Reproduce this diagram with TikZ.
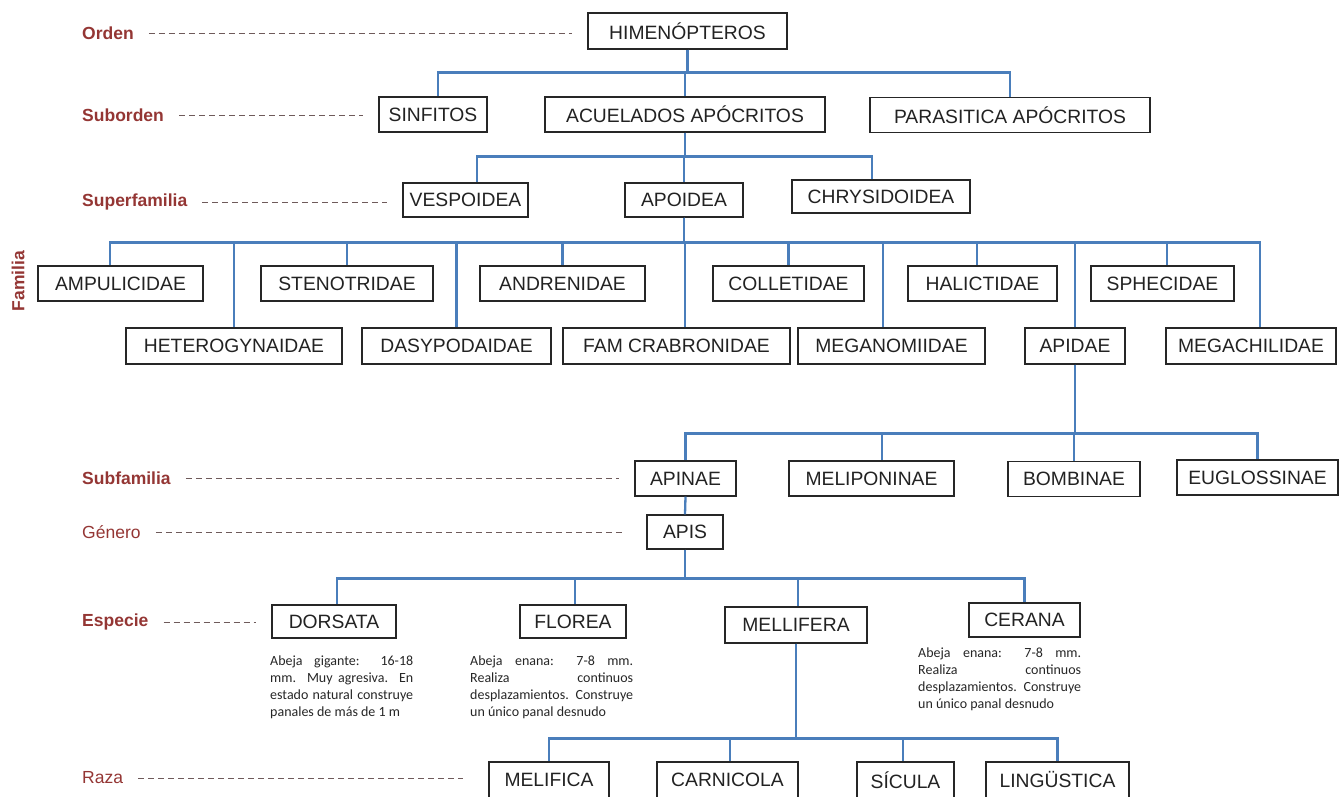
\documentclass[tikz,border=0pt]{standalone}
\usepackage{fontspec}
\setmainfont{Liberation Sans}
\newfontfamily\calibrifam{Carlito}
\usepackage{tikz}

\definecolor{linkblue}{HTML}{4A7EBB}
\definecolor{rankred}{HTML}{943634}
\definecolor{dashgray}{HTML}{6E5A5A}
\definecolor{boxtext}{HTML}{222222}
\definecolor{notegray}{HTML}{262626}

\newcommand{\taxfont}{\fontsize{19.3}{23}\selectfont}
\newcommand{\rankfont}{\fontsize{17.5}{21}\selectfont}
\newcommand{\notefont}{\calibrifam\fontsize{14}{17}\selectfont}

\begin{document}
\begin{tikzpicture}[x=1pt, y=-1pt]
    \tikzset{
        taxbox/.style={draw=black!85, line width=1.2pt, fill=white, minimum height=35pt, inner sep=0pt, text=boxtext, font=\taxfont},
        rank/.style={anchor=west, inner sep=0pt, text=rankred, font=\rankfont\bfseries},
        plainrank/.style={rank, font=\rankfont},
        link/.style={draw=linkblue, line width=2.3pt},
        guide/.style={draw=dashgray, line width=0.9pt, dash pattern=on 6pt off 4pt, shorten <=15pt, shorten >=15pt},
        note/.style={anchor=north west, inner sep=0pt, align=justify, font=\notefont, text=notegray}
    }
    \clip (0,0) rectangle (1341,796);

    % ranks
    \node [rank] (orden) at (82,33) {Orden};
    \node [rank] (subord) at (82,115) {Suborden};
    \node [rank] (superf) at (82,202) {Superfamilia};
    \node [rank, rotate=90, anchor=center] (familia) at (18,281) {Familia};
    \node [rank] (subfam) at (82,478) {Subfamilia};
    \node [plainrank] (genero) at (82,532) {Género};
    \node [rank] (especie) at (82,622) {Especie};
    \node [plainrank] (raza) at (82,778) {Raza};

    % taxa
    \node [taxbox, minimum width=199pt, minimum height=36pt] (himen) at (687.5,31) {HIMENÓPTEROS};
    \node [taxbox, minimum width=108pt] (sinf) at (433,114.5) {SINFITOS};
    \node [taxbox, minimum width=280pt] (acuel) at (685,114.5) {ACUELADOS APÓCRITOS};
    \node [taxbox, minimum width=280pt] (paras) at (1010,115) {PARASITICA APÓCRITOS};

    \node [taxbox, minimum width=125pt, minimum height=34pt] (vesp) at (465.5,200) {VESPOIDEA};
    \node [taxbox, minimum width=118pt, minimum height=34pt] (apoid) at (684,200) {APOIDEA};
    \node [taxbox, minimum width=178pt, minimum height=33pt] (chrys) at (881,196.5) {CHRYSIDOIDEA};

    \node [taxbox, minimum width=165pt] (ampu) at (120.5,283.5) {AMPULICIDAE};
    \node [taxbox, minimum width=172pt] (steno) at (347,283.5) {STENOTRIDAE};
    \node [taxbox, minimum width=165pt] (andre) at (562.5,283.5) {ANDRENIDAE};
    \node [taxbox, minimum width=151pt] (colle) at (788.5,283.5) {COLLETIDAE};
    \node [taxbox, minimum width=149pt] (halic) at (982.5,283.5) {HALICTIDAE};
    \node [taxbox, minimum width=143pt] (sphec) at (1162.5,283.5) {SPHECIDAE};

    \node [taxbox, minimum width=216pt, minimum height=36pt] (hetero) at (234,346) {HETEROGYNAIDAE};
    \node [taxbox, minimum width=189pt, minimum height=36pt] (dasy) at (456.5,346) {DASYPODAIDAE};
    \node [taxbox, minimum width=227pt, minimum height=36pt] (crabro) at (676.5,346) {FAM CRABRONIDAE};
    \node [taxbox, minimum width=187pt, minimum height=36pt] (megan) at (891.5,346) {MEGANOMIIDAE};
    \node [taxbox, minimum width=100pt, minimum height=36pt] (apidae) at (1075,346) {APIDAE};
    \node [taxbox, minimum width=170pt, minimum height=36pt] (megach) at (1251,346) {MEGACHILIDAE};

    \node [taxbox, minimum width=101pt] (apinae) at (685.5,478.5) {APINAE};
    \node [taxbox, minimum width=165pt] (melip) at (871.5,478.5) {MELIPONINAE};
    \node [taxbox, minimum width=132pt] (bomb) at (1074,479) {BOMBINAE};
    \node [taxbox, minimum width=161pt] (eugl) at (1257.5,477.5) {EUGLOSSINAE};

    \node [taxbox, minimum width=76pt, minimum height=34pt] (apis) at (685,532) {APIS};

    \node [taxbox, minimum width=124pt, minimum height=33pt] (dors) at (334,621.5) {DORSATA};
    \node [taxbox, minimum width=106pt, minimum height=33pt] (flor) at (573,621.5) {FLOREA};
    \node [taxbox, minimum width=142pt, minimum height=36pt] (mell) at (796,625) {MELLIFERA};
    \node [taxbox, minimum width=111pt, minimum height=34pt] (cera) at (1024.5,620) {CERANA};

    \node [taxbox, minimum width=120pt, minimum height=36pt] (melif) at (549,780) {MELIFICA};
    \node [taxbox, minimum width=141pt, minimum height=36pt] (carn) at (727.5,780) {CARNICOLA};
    \node [taxbox, minimum width=97pt, minimum height=36pt] (sicul) at (905.5,780) {SÍCULA};
    \node [taxbox, minimum width=143pt, minimum height=36pt] (ling) at (1057.5,780) {LINGÜSTICA};

    % species notes
    \node [note, text width=143pt] (dorsnote) at (270,656) {Abeja gigante: 16-18\linebreak mm. Muy agresiva. En\linebreak estado natural construye\linebreak panales de más de 1 m};
    \node [note, text width=163pt] (flornote) at (470,656) {Abeja enana: 7-8 mm.\linebreak Realiza continuos\linebreak desplazamientos. Construye\linebreak un único panal desnudo};
    \node [note, text width=163pt] (ceranote) at (918,648) {Abeja enana: 7-8 mm.\linebreak Realiza continuos\linebreak desplazamientos. Construye\linebreak un único panal desnudo};

    % rank guides
    \draw [guide] (orden.east) -- (orden.east -| himen.west);
    \draw [guide] (subord.east) -- (subord.east -| sinf.west);
    \draw [guide] (superf.east) -- (superf.east -| vesp.west);
    \draw [guide] (subfam.east) -- (subfam.east -| apinae.west);
    \draw [guide, shorten >=22pt] (genero.east) -- (genero.east -| apis.west);
    \draw [guide] (especie.east) -- (especie.east -| dors.west);
    \draw [guide, shorten >=25pt] (raza.east) -- (raza.east -| melif.west);

    % tree links
    \path [link] (himen.south) -- ++(0,23) -| ([xshift=5pt]sinf.north);
    \path [link] (himen.south) -- ++(0,23) -| (acuel.north);
    \path [link] (himen.south) -- ++(0,23) -| (paras.north);

    \path [link] (acuel.south) -- ++(0,24) -| ([xshift=11.5pt]vesp.north);
    \path [link] (acuel.south) -- ++(0,24) -| (apoid.north);
    \path [link] (acuel.south) -- ++(0,24) -| ([xshift=-9pt]chrys.north);

    \path [link] (apoid.south) -- ++(0,25) -| ([xshift=-10.5pt]ampu.north);
    \path [link] (apoid.south) -- ++(0,25) -| (steno.north);
    \path [link] (apoid.south) -- ++(0,25) -| (andre.north);
    \path [link] (apoid.south) -- ++(0,25) -| (colle.north);
    \path [link] (apoid.south) -- ++(0,25) -| ([xshift=-5.5pt]halic.north);
    \path [link] (apoid.south) -- ++(0,25) -| ([xshift=4.5pt]sphec.north);
    \path [link] (apoid.south) -- ++(0,25) -| (hetero.north);
    \path [link] (apoid.south) -- ++(0,25) -| (dasy.north);
    \path [link] (apoid.south) -- ++(0,25) -| ([xshift=8.5pt]crabro.north);
    \path [link] (apoid.south) -- ++(0,25) -| ([xshift=-8.5pt]megan.north);
    \path [link] (apoid.south) -- ++(0,25) -| (apidae.north);
    \path [link] (apoid.south) -- ++(0,25) -| ([xshift=9pt]megach.north);

    \path [link] (apidae.south) -- ++(0,69) -| (apinae.north);
    \path [link] (apidae.south) -- ++(0,69) -| ([xshift=10.5pt]melip.north);
    \path [link] (apidae.south) -- ++(0,69) -| (bomb.north);
    \path [link] (apidae.south) -- ++(0,69) -| (eugl.north);

    \path [link] (apinae.south) -- (apis.north);

    \path [link] (apis.south) -- ++(0,29) -| ([xshift=3pt]dors.north);
    \path [link] (apis.south) -- ++(0,29) -| ([xshift=2pt]flor.north);
    \path [link] (apis.south) -- ++(0,29) -| ([xshift=2pt]mell.north);
    \path [link] (apis.south) -- ++(0,29) -| (cera.north);

    \path [link] (mell.south) -- ++(0,95) -| (melif.north);
    \path [link] (mell.south) -- ++(0,95) -| ([xshift=2.5pt]carn.north);
    \path [link] (mell.south) -- ++(0,95) -| ([xshift=-2.5pt]sicul.north);
    \path [link] (mell.south) -- ++(0,95) -| (ling.north);
\end{tikzpicture}
\end{document}
